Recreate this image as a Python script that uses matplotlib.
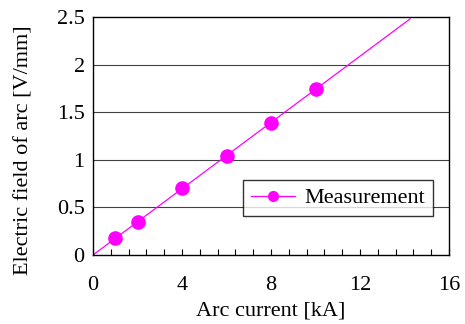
import matplotlib
matplotlib.use("Agg")
import matplotlib.pyplot as plt
from matplotlib.lines import Line2D
from matplotlib.ticker import MultipleLocator

plt.rcParams['font.family'] = ['Liberation Serif', 'DejaVu Serif']

# Data
current_kA = [1, 2, 4, 6, 8, 10]
field_V_mm = [0.18, 0.35, 0.70, 1.04, 1.39, 1.74]
fit_x = [0, 14.25]
fit_y = [0, 2.48]
x_ticks = [0, 4, 8, 12, 16]
y_ticks = [0, 0.5, 1, 1.5, 2, 2.5]
y_tick_labels = ["0", "0.5", "1", "1.5", "2", "2.5"]

fig = plt.figure(figsize=(4.65, 3.24), dpi=100)
ax = fig.add_axes([0.2, 0.213, 0.7656, 0.7345])

for y in y_ticks[1:-1]:
    ax.axhline(y, color='#404040', lw=0.8, zorder=1)

ax.plot(fit_x, fit_y, color='#FF00FF', lw=0.9, zorder=2)
ax.plot(current_kA, field_V_mm, 'o', color='#FF00FF', ms=9.5, mec='#FF00FF', zorder=3)

ax.set_xlim(0, 16)
ax.set_ylim(0, 2.5)
ax.set_xticks(x_ticks)
ax.xaxis.set_minor_locator(MultipleLocator(0.8))
ax.tick_params(axis='x', which='both', direction='in', length=4, width=0.8, labelsize=16, pad=15)
ax.set_yticks(y_ticks)
ax.set_yticklabels(y_tick_labels)
ax.tick_params(axis='y', length=0, labelsize=16, pad=6)
for s in ax.spines.values():
    s.set_linewidth(1.0)
    s.set_color('black')

ax.set_xlabel('Arc current [kA]', fontsize=16, labelpad=5)
ax.set_ylabel('Electric field of arc [V/mm]', fontsize=16)
ax.yaxis.set_label_coords(-0.168, 0.44)

handle = Line2D([], [], color='#FF00FF', lw=0.9, marker='o', ms=7)
leg = ax.legend([handle], ['Measurement'], loc='upper left', bbox_to_anchor=(0.421, 0.315),
                fontsize=16, frameon=True, fancybox=False, edgecolor='black',
                handlelength=2.0, handletextpad=0.4, borderpad=0.35, borderaxespad=0)
leg.get_frame().set_linewidth(1.0)
leg.set_zorder(5)

fig.savefig('out.png', dpi=100)
